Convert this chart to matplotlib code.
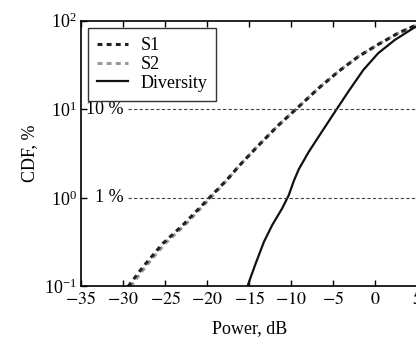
import matplotlib
matplotlib.use("Agg")
import matplotlib.pyplot as plt

plt.rcParams['font.family'] = ['Liberation Serif', 'DejaVu Serif']
plt.rcParams['mathtext.fontset'] = 'stix'

# данные
s1_x = [-29.4, -27.64, -25.27, -22.9, -19.75, -17.6, -16.2, -13.84, -11.48, -9.11, -6.75, -4.39, -2.02, 0.34, 2.71, 4.48, 5.5]
s1_y = [0.1, 0.166, 0.306, 0.492, 1.0, 1.62, 2.3, 3.96, 6.67, 10.7, 17.3, 26.7, 39.4, 54.0, 72.3, 86.0, 92.0]
s2_x = [-29.1, -27.35, -25.0, -22.65, -19.6, -17.55, -16.2, -13.84, -11.48, -9.11, -6.75, -4.39, -2.02, 0.34, 2.71, 4.48, 5.5]
s2_y = [0.1, 0.166, 0.306, 0.492, 1.0, 1.62, 2.3, 3.96, 6.67, 10.7, 17.3, 26.7, 39.4, 54.0, 72.3, 86.0, 92.0]
div_x = [-15.22, -14.23, -13.25, -12.27, -11.09, -10.3, -9.7, -9.11, -7.93, -6.75, -4.78, -3.2, -1.43, 0.34, 2.32, 4.48, 5.5]
div_y = [0.1, 0.182, 0.319, 0.492, 0.759, 1.07, 1.55, 2.1, 3.3, 4.9, 9.45, 15.9, 27.8, 43.0, 60.7, 82.0, 92.0]
levels = [10, 1]
level_labels = ['10 %', '1 %']

fs = 13

fig = plt.figure(figsize=(4.16, 3.38), dpi=100)
ax = fig.add_axes([0.1947, 0.1524, 0.8087, 0.7864])

ax.plot(s2_x, s2_y, color='#999999', linestyle=(0, (1.6, 1.4)), linewidth=2.2, label='S2')
ax.plot(s1_x, s1_y, color='#222222', linestyle=(0, (1.6, 1.4)), linewidth=2.2, label='S1')
ax.plot(div_x, div_y, color='#111111', linewidth=1.6, label='Diversity')

for lv, lab in zip(levels, level_labels):
    ax.plot([-29.4, 6], [lv, lv], color='#444444', linestyle=(0, (3, 2)), linewidth=0.8)
    ax.text(-29.9, lv, lab, ha='right', va='center', fontsize=fs)

ax.set_yscale('log')
ax.set_xlim(-35, 5)
ax.set_ylim(0.1, 100)
ax.set_xticks([-35, -30, -25, -20, -15, -10, -5, 0, 5])
ax.set_xticklabels(['$-35$', '$-30$', '$-25$', '$-20$', '$-15$', '$-10$', '$-5$', '$0$', '$5$'])
ax.minorticks_off()
ax.tick_params(direction='in', top=True, length=4, width=1, labelsize=fs, pad=3)
for sp in ax.spines.values():
    sp.set_linewidth(1.2)

ax.set_xlabel('Power, dB', fontsize=fs, labelpad=9)
ax.set_ylabel('CDF, %', fontsize=fs, labelpad=4)

h, l = ax.get_legend_handles_labels()
order = [1, 0, 2]
leg = ax.legend([h[i] for i in order], [l[i] for i in order], loc='upper left',
                bbox_to_anchor=(0.021, 0.9725), fancybox=False, framealpha=1,
                edgecolor='#333333', handlelength=1.7, handletextpad=0.7,
                labelspacing=0.1, borderpad=0.5, borderaxespad=0.0, fontsize=fs)
leg.get_frame().set_linewidth(1.0)

fig.savefig('out.png', dpi=100)
